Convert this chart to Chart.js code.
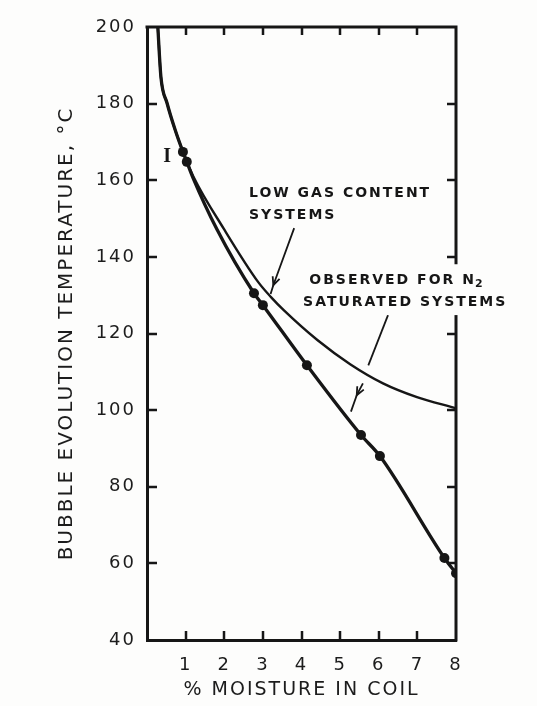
<!DOCTYPE html>
<html>
<head>
<meta charset="utf-8">
<script src="https://cdn.jsdelivr.net/npm/chart.js@4.4.1/dist/chart.umd.min.js"></script>
<style>
  html, body { margin: 0; padding: 0; background: #fdfdfc; }
  #wrap { width: 537px; height: 706px; }
</style>
</head>
<body>
<div id="wrap"><canvas id="chart" width="537" height="706"></canvas></div>
<script>
// Bubble evolution temperature (°C) against % moisture in the coil.

// Curve observed for N2-saturated systems
const observedMoisture = [0.28, 0.36, 0.52, 0.73, 0.93, 1.03, 1.18, 1.81, 2.77, 3.0, 4.14, 5.54, 6.03, 7.7, 8.0];
const observedTemp     = [200, 187, 180.1, 173.1, 167.4, 164.8, 160.9, 147.2, 130.5, 127.4, 111.7, 93.5, 88.0, 61.4, 57.4];

// Measured points on that curve
const measuredMoisture = [0.93, 1.03, 2.77, 3.0, 4.14, 5.54, 6.03, 7.7, 8.0];
const measuredTemp     = [167.4, 164.8, 130.5, 127.4, 111.7, 93.5, 88.0, 61.4, 57.4];

// Curve for low gas content systems
const lowGasMoisture = [0.28, 0.36, 0.52, 0.73, 0.95, 1.2, 1.99, 2.88, 3.21, 3.54, 4.41, 5.26, 6.11, 6.99, 7.89, 8.0];
const lowGasTemp     = [200, 187, 180.1, 173.1, 167, 161, 147.3, 133.4, 129.5, 126.1, 118.3, 112.0, 107.0, 103.4, 100.8, 100.5];

// Leader lines from the labels to the curves
const leaderLowGasX = [3.81, 3.27, 3.2];
const leaderLowGasY = [147.5, 132.6, 130.3];
const leaderObservedTopX = [6.24, 5.73];
const leaderObservedTopY = [124.8, 111.7];
const leaderObservedBottomX = [5.59, 5.43, 5.28];
const leaderObservedBottomY = [107.0, 103.9, 99.6];

// Tick values
const xTickValues = [1, 2, 3, 4, 5, 6, 7, 8];
const yTickValues = [40, 60, 80, 100, 120, 140, 160, 180, 200];

const INK = '#161616';
const PAPER = '#fdfdfc';

const pts = (xs, ys) => xs.map((x, i) => ({ x, y: ys[i] }));

// Curve labels, anchored in data units (left edge, vertical centre)
const curveLabels = [
  { lines: ['LOW GAS CONTENT', 'SYSTEMS'], x: [2.64, 2.64], y: [156.7, 150.9], box: false },
  { lines: ['OBSERVED FOR N', 'SATURATED SYSTEMS'], sub: ['2', ''], x: [4.2, 4.04], y: [133.9, 128.2], box: true }
];

const framePlugin = {
  id: 'frame',
  beforeUpdate(chart) { chart.ctx.letterSpacing = '2px'; },
  beforeDraw(chart) {
    const { ctx, width, height } = chart;
    ctx.save();
    ctx.fillStyle = PAPER;
    ctx.fillRect(0, 0, width, height);
    ctx.restore();
    ctx.letterSpacing = '2px';
  },
  afterDraw(chart) {
    const { ctx } = chart;
    const { left, right, top, bottom } = chart.chartArea;
    const xs = chart.scales.x, ys = chart.scales.y;
    ctx.save();
    ctx.strokeStyle = INK;
    ctx.lineCap = 'butt';

    // top and right edges of the frame
    ctx.lineWidth = 3;
    ctx.beginPath();
    ctx.moveTo(left - 1.5, top);
    ctx.lineTo(right, top);
    ctx.lineTo(right, bottom + 1.5);
    ctx.stroke();

    // inward tick marks on all four sides
    ctx.lineWidth = 2.5;
    ctx.beginPath();
    xTickValues.forEach(v => {
      if (v >= xs.max) return;
      const px = Math.round(xs.getPixelForValue(v));
      ctx.moveTo(px, bottom); ctx.lineTo(px, bottom - 9);
      ctx.moveTo(px, top); ctx.lineTo(px, top + 8);
    });
    yTickValues.forEach(v => {
      if (v <= ys.min || v >= ys.max) return;
      const py = Math.round(ys.getPixelForValue(v));
      ctx.moveTo(left, py); ctx.lineTo(left + 10, py);
      ctx.moveTo(right, py); ctx.lineTo(right - 9, py);
    });
    ctx.stroke();

    // arrowheads on the leader lines
    chart.data.datasets.forEach((ds, i) => {
      if (ds.arrowAt === undefined) return;
      const meta = chart.getDatasetMeta(i);
      const p0 = meta.data[ds.arrowAt - 1], p1 = meta.data[ds.arrowAt];
      const a = Math.atan2(p1.y - p0.y, p1.x - p0.x);
      ctx.lineWidth = 1.8;
      ctx.beginPath();
      ctx.moveTo(p1.x - 9 * Math.cos(a - 0.42), p1.y - 9 * Math.sin(a - 0.42));
      ctx.lineTo(p1.x, p1.y);
      ctx.lineTo(p1.x - 9 * Math.cos(a + 0.42), p1.y - 9 * Math.sin(a + 0.42));
      ctx.stroke();
    });

    // curve labels
    ctx.letterSpacing = '2px';
    ctx.textBaseline = 'middle';
    ctx.textAlign = 'left';
    curveLabels.forEach(lab => {
      ctx.font = 'bold 14px "DejaVu Sans"';
      const rows = lab.lines.map((t, k) => ({
        text: t,
        sub: lab.sub ? lab.sub[k] : '',
        px: xs.getPixelForValue(lab.x[k]),
        py: ys.getPixelForValue(lab.y[k])
      }));
      if (lab.box) {
        let minX = Infinity, maxX = -Infinity;
        rows.forEach(r => {
          const w = ctx.measureText(r.text).width + (r.sub ? 14 : 0);
          minX = Math.min(minX, r.px); maxX = Math.max(maxX, r.px + w);
        });
        ctx.fillStyle = PAPER;
        ctx.fillRect(minX - 4, rows[0].py - 16, maxX - minX + 8, rows[rows.length - 1].py - rows[0].py + 29);
      }
      ctx.fillStyle = INK;
      rows.forEach(r => {
        ctx.font = 'bold 14px "DejaVu Sans"';
        ctx.fillText(r.text, r.px, r.py);
        if (r.sub) {
          const w = ctx.measureText(r.text).width;
          ctx.font = 'bold 11px "DejaVu Sans"';
          ctx.fillText(r.sub, r.px + w - 1, r.py + 4);
        }
      });
    });

    // error-bar glyph beside the first reading
    ctx.font = 'bold 20px "Liberation Serif"';
    ctx.letterSpacing = '0px';
    ctx.textAlign = 'center';
    ctx.fillText('I', xs.getPixelForValue(0.52), ys.getPixelForValue(166.1));
    ctx.restore();
    ctx.letterSpacing = '2px';
  }
};

const lineDs = (label, xs, ys, width, extra) => Object.assign({
  label,
  data: pts(xs, ys),
  showLine: true,
  borderColor: INK,
  backgroundColor: INK,
  borderWidth: width,
  borderJoinStyle: 'round',
  borderCapStyle: 'round',
  pointRadius: 0,
  pointHoverRadius: 0,
  cubicInterpolationMode: 'monotone',
  fill: false
}, extra || {});

const straight = { cubicInterpolationMode: 'default', tension: 0, borderCapStyle: 'butt' };

new Chart(document.getElementById('chart'), {
  type: 'scatter',
  data: {
    datasets: [
      lineDs('Low gas content systems', lowGasMoisture, lowGasTemp, 2.4),
      lineDs('Observed for N2 saturated systems', observedMoisture, observedTemp, 3.3),
      {
        label: 'Measured',
        data: pts(measuredMoisture, measuredTemp),
        showLine: false,
        pointRadius: 5,
        pointBackgroundColor: INK,
        pointBorderColor: INK,
        pointBorderWidth: 0
      },
      lineDs('leader low gas', leaderLowGasX, leaderLowGasY, 1.8, Object.assign({ arrowAt: 1 }, straight)),
      lineDs('leader observed a', leaderObservedTopX, leaderObservedTopY, 1.8, straight),
      lineDs('leader observed b', leaderObservedBottomX, leaderObservedBottomY, 1.8, Object.assign({ arrowAt: 1 }, straight))
    ]
  },
  options: {
    responsive: false,
    animation: false,
    devicePixelRatio: 1,
    layout: { padding: { top: 27, right: 81, left: 0, bottom: 0 } },
    plugins: { legend: { display: false }, tooltip: { enabled: false } },
    scales: {
      x: {
        type: 'linear',
        min: 0, max: 8,
        afterBuildTicks: s => { s.ticks = xTickValues.map(v => ({ value: v })); },
        afterFit: s => { s.height = 66; },
        grid: { display: true, drawOnChartArea: false, drawTicks: false },
        border: { display: true, color: INK, width: 3 },
        ticks: {
          autoSkip: false, maxRotation: 0, padding: 15,
          color: '#1c1c1c',
          font: { family: '"DejaVu Sans"', size: 18 }
        },
        title: {
          display: true,
          text: '% MOISTURE IN COIL',
          color: '#1c1c1c',
          font: { family: '"DejaVu Sans"', size: 19 },
          padding: { top: 0, bottom: 5 }
        }
      },
      y: {
        type: 'linear',
        min: 40, max: 200,
        afterBuildTicks: s => { s.ticks = yTickValues.map(v => ({ value: v })); },
        afterFit: s => { s.width = 147; },
        grid: { display: true, drawOnChartArea: false, drawTicks: false },
        border: { display: true, color: INK, width: 3 },
        ticks: {
          autoSkip: false, padding: 11,
          color: '#1c1c1c',
          font: { family: '"DejaVu Sans"', size: 18 }
        },
        title: {
          display: true,
          text: 'BUBBLE EVOLUTION TEMPERATURE, °C',
          color: '#1c1c1c',
          font: { family: '"DejaVu Sans"', size: 20 },
          padding: { top: 55, bottom: 0 }
        }
      }
    }
  },
  plugins: [framePlugin]
});
</script>
</body>
</html>
